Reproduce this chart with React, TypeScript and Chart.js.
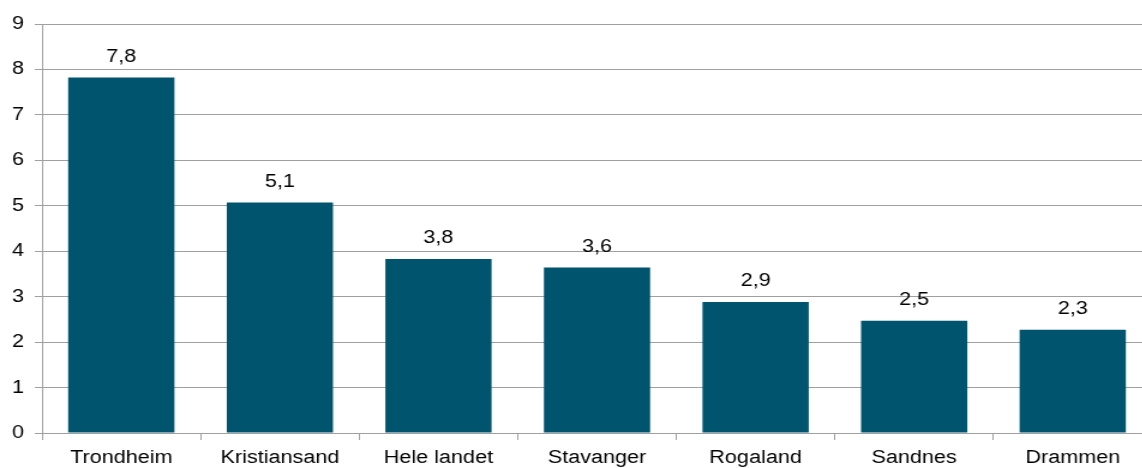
import React, { useEffect, useRef } from "react";
import { Chart, registerables } from "chart.js";

Chart.register(...registerables);

const categories = ["Trondheim", "Kristiansand", "Hele landet", "Stavanger", "Rogaland", "Sandnes", "Drammen"];
const values = [7.82, 5.07, 3.83, 3.64, 2.88, 2.47, 2.27];
const yTicks = [0, 1, 2, 3, 4, 5, 6, 7, 8, 9];

const FONT = "'Liberation Sans', Arial, sans-serif";
const STRETCH = 1.2;
const FULL_W = 1152;
const H = 468;
const W = Math.round(FULL_W / STRETCH);

const labelPlugin = {
  id: "barLabels",
  afterDatasetsDraw(chart: any) {
    const ctx = chart.ctx;
    const meta = chart.getDatasetMeta(0);
    ctx.save();
    ctx.font = `18px ${FONT}`;
    ctx.fillStyle = "#000000";
    ctx.textAlign = "center";
    ctx.textBaseline = "alphabetic";
    meta.data.forEach((bar: any, i: number) => {
      const txt = values[i].toFixed(1).replace(".", ",");
      ctx.fillText(txt, bar.x, bar.y - 16);
    });
    ctx.restore();
  },
};

export default function App() {
  const ref = useRef<HTMLCanvasElement>(null);
  useEffect(() => {
    document.body.style.margin = "0";
    document.body.style.overflow = "hidden";
    const chart = new Chart(ref.current!, {
      type: "bar",
      data: {
        labels: categories,
        datasets: [
          {
            data: values,
            backgroundColor: "#00546E",
            categoryPercentage: 1,
            barPercentage: 0.67,
          },
        ],
      },
      options: {
        animation: false,
        responsive: false,
        maintainAspectRatio: false,
        layout: { padding: { top: 24, right: 0, left: 0, bottom: 0 } },
        plugins: { legend: { display: false }, tooltip: { enabled: false } },
        scales: {
          x: {
            offset: true,
            grid: {
              offset: true,
              drawOnChartArea: false,
              drawTicks: true,
              tickLength: 7,
              color: "#A0A0A0",
            },
            border: { color: "#A0A0A0" },
            ticks: {
              color: "#000000",
              font: { family: FONT, size: 18 },
              padding: 7,
              maxRotation: 0,
              autoSkip: false,
            },
            afterFit: (s: any) => {
              s.height = 35;
            },
          },
          y: {
            min: 0,
            max: 9,
            afterBuildTicks: (s: any) => {
              s.ticks = yTicks.map((v) => ({ value: v }));
            },
            grid: {
              color: "#A0A0A0",
              tickLength: 6,
            },
            border: { color: "#A0A0A0" },
            ticks: {
              color: "#000000",
              font: { family: FONT, size: 18 },
              padding: 9,
            },
            afterFit: (s: any) => {
              s.width = 35;
            },
          },
        },
      },
      plugins: [labelPlugin],
    });
    return () => chart.destroy();
  }, []);
  return (
    <div style={{ position: "absolute", left: 0, top: 0, width: FULL_W, height: H, background: "#fff", overflow: "hidden" }}>
      <div style={{ width: W, height: H, transform: `scaleX(${STRETCH})`, transformOrigin: "0 0" }}>
        <canvas ref={ref} width={W} height={H} style={{ display: "block", width: W, height: H }} />
      </div>
    </div>
  );
}
